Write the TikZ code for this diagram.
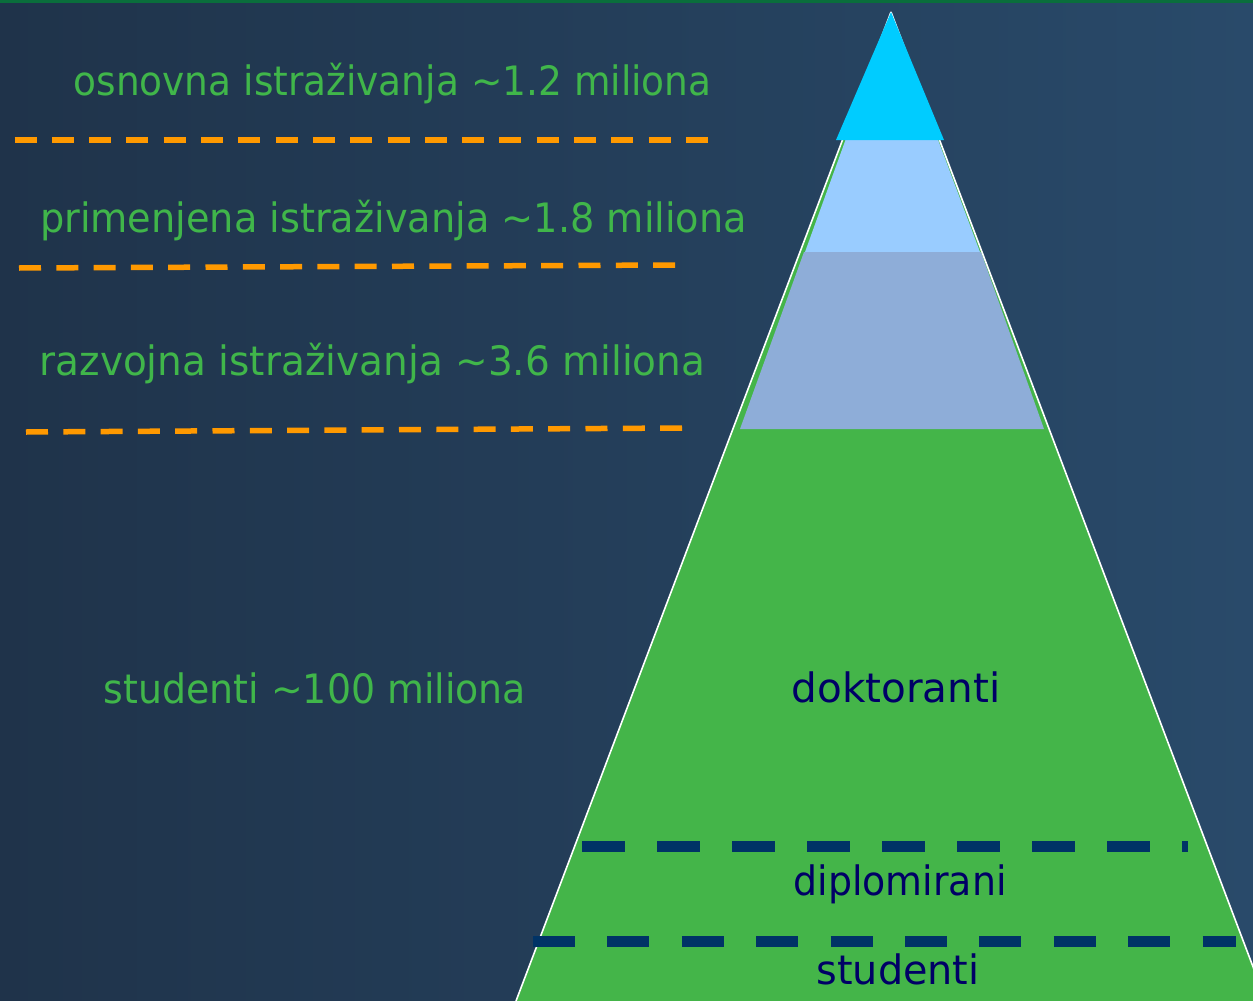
\documentclass[tikz,border=0pt]{standalone}
\usepackage{fontspec}
\usepackage{graphicx}
\setmainfont{DejaVu Sans}
\definecolor{bgL}{RGB}{31,51,74}
\definecolor{bgR}{RGB}{41,74,106}
\definecolor{topgreen}{RGB}{10,110,60}
\definecolor{pgreen}{RGB}{68,181,73}
\definecolor{lblue}{RGB}{153,204,255}
\definecolor{gblue}{RGB}{142,173,216}
\definecolor{cyanc}{RGB}{0,204,255}
\definecolor{orangec}{RGB}{255,153,0}
\definecolor{navydash}{RGB}{0,51,102}
\definecolor{navytext}{RGB}{0,0,102}
\definecolor{gtextc}{RGB}{64,182,74}
\newcommand{\stretchtxt}[2]{\scalebox{#1}[1.08]{#2}}
\tikzset{
  gtext/.style={text=gtextc, font=\fontsize{37.5}{44}\selectfont, inner sep=0pt, anchor=base},
  ntext/.style={text=navytext, font=\fontsize{37.5}{44}\selectfont, inner sep=0pt, anchor=base},
  odash/.style={draw=orangec, line width=5.5pt, dash pattern=on 22pt off 15.3pt},
  ndash/.style={draw=navydash, line width=11pt, dash pattern=on 43pt off 32pt},
  outline/.style={draw=white, line width=1.6pt}
}
\begin{document}
\begin{tikzpicture}[x=1pt,y=-1pt]
\useasboundingbox (0,0) rectangle (1253,1001);
\clip (0,0) rectangle (1253,1001);
\shade[left color=bgL, right color=bgR] (0,0) rectangle (1253,1001);
\fill[topgreen] (0,0) rectangle (1253,2.5);
% pyramid
\coordinate (apex) at (891,12);
\coordinate (bl) at (516,1001);
\coordinate (br) at (1266,1001);
\fill[pgreen] (apex) -- (bl) -- (br) -- cycle;
\fill[lblue] (891,14) -- (805,252) -- (980,252) -- cycle;
\fill[gblue] (804,252) -- (981,252) -- (1044,429) -- (740,429) -- cycle;
\draw[outline] (apex) -- (bl) (apex) -- (br);
\fill[cyanc] (891,12) -- (836,140) -- (944,140) -- cycle;
% orange dashed separators
\draw[odash] (14.5,140) -- (709,140);
\draw[odash] (19,268) -- (676,265);
\draw[odash] (26,432) -- (682,428);
% navy dashed separators
\draw[ndash] (582,846) -- (1188,846);
\draw[ndash, dash pattern=on 42pt off 32.4pt] (533,941) -- (1236,941);
% left labels
\node[gtext] (osn) at (392.5,95) {\stretchtxt{1.0}{osnovna istraživanja \textasciitilde1.2 miliona}};
\node[gtext] (pri) at (393.5,232) {\stretchtxt{1.02}{primenjena istraživanja \textasciitilde1.8 miliona}};
\node[gtext] (raz) at (372.5,375) {\stretchtxt{1.04}{razvojna istraživanja \textasciitilde3.6 miliona}};
\node[gtext] (stl) at (315,703) {\stretchtxt{1.01}{studenti \textasciitilde100 miliona}};
% pyramid labels
\node[ntext] (dok) at (896,702) {\stretchtxt{1.08}{doktoranti}};
\node[ntext] (dip) at (900,895) {\stretchtxt{1.01}{diplomirani}};
\node[ntext] (stu) at (898,984) {\stretchtxt{1.06}{studenti}};
\end{tikzpicture}
\end{document}
